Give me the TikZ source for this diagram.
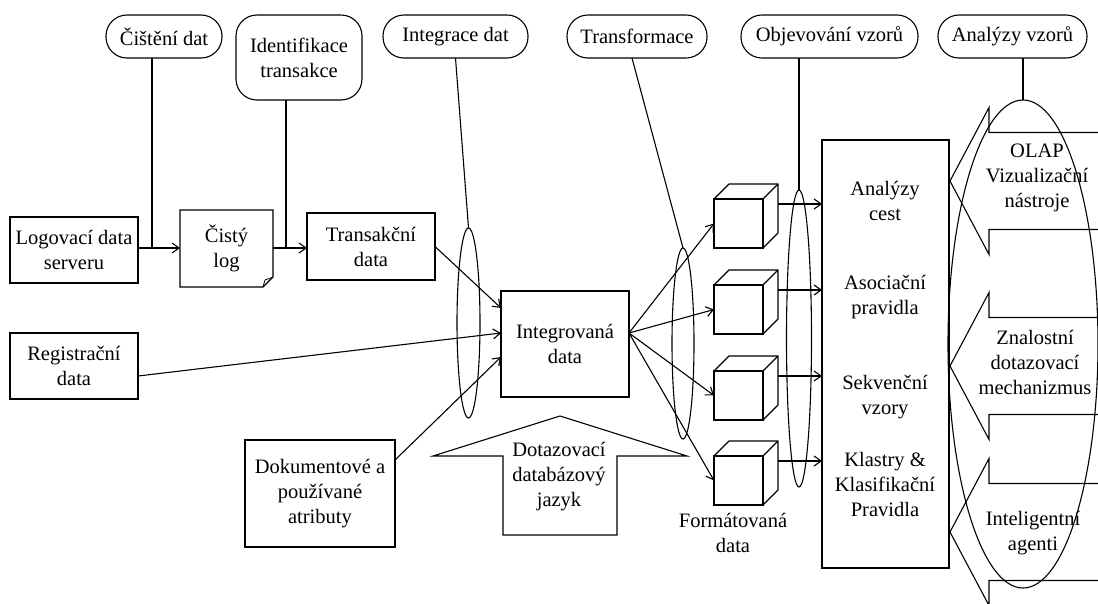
\documentclass[tikz,border=0pt]{standalone}
\usepackage{fontspec}
\setmainfont{Liberation Serif}
\usetikzlibrary{arrows.meta,shapes.geometric,calc}
\begin{document}
\begin{tikzpicture}[x=1pt,y=-1pt,
  every node/.style={font=\fontsize{20.5}{25}\selectfont, align=center, inner sep=0pt, outer sep=0pt},
  ln/.style={line width=1.1pt},
  box/.style={draw, line width=1.1pt, rectangle},
  pill/.style={draw, line width=1.1pt, rounded corners=21pt},
  arr/.style={line width=1.1pt, -{Straight Barb[length=7pt,width=10pt]}},
  ell/.style={draw, ellipse, line width=1.1pt},
  cubeface/.style={draw, line width=1.1pt, minimum width=49pt, minimum height=49pt}
]
\fill[white] (0,0) rectangle (1098,603);
\useasboundingbox (0,0) rectangle (1098,603);

% top pills
\node[pill, minimum width=116pt, minimum height=43pt] (cistp) at (164,36.5) {Čištění dat};
\node[pill, minimum width=126pt, minimum height=85pt] (identp) at (299,57.5) {Identifikace\\transakce};
\node[pill, minimum width=145pt, minimum height=43pt] (integp) at (455.5,36.5) {Integrace dat};
\node[pill, minimum width=140pt, minimum height=43pt] (transp) at (637,36.5) {Transformace};
\node[pill, minimum width=177pt, minimum height=43pt] (objp) at (829.5,36.5) {Objevování vzorů};
\node[pill, minimum width=149pt, minimum height=43pt] (anp) at (1012.5,36.5) {Analýzy vzorů};

% boxes
\node[box, minimum width=128pt, minimum height=66pt] (logov) at (74,250) {Logovací data\\serveru};
\node[minimum width=93pt, minimum height=77pt] (cisty) at (226.5,248.5) {Čistý\\log};
\draw[ln] (cisty.north west) -- (cisty.north east) -- ($(cisty.south east)+(0,-10)$)
  -- ($(cisty.south east)+(-10,0)$) -- (cisty.south west) -- cycle;
\draw[line width=0.8pt] ($(cisty.south east)+(-10,0)$) -- ($(cisty.south east)+(-8,-7)$) -- ($(cisty.south east)+(0,-10)$);
\node[box, minimum width=128pt, minimum height=67pt] (trans) at (371,246.5) {Transakční\\data};
\node[box, minimum width=128pt, minimum height=66pt] (regis) at (74,366) {Registrační\\data};
\node[box, minimum width=150pt, minimum height=107pt] (dokum) at (320,493.5) {Dokumentové a\\používané\\atributy};
\node[box, minimum width=128pt, minimum height=106pt] (integr) at (565,344) {Integrovaná\\data};
\node[box, minimum width=127pt, minimum height=428pt] (rb) at (885.5,354) {};

\node (t1) at (885,201) {Analýzy\\cest};
\node (t2) at (885,297) {Asociační\\pravidla};
\node (t3) at (885,397) {Sekvenční\\vzory};
\node (t4) at (885,484) {Klastry \&\\Klasifikační\\Pravidla};

% junctions
\coordinate (j1) at (152,248);
\coordinate (j2) at (286,248);
\draw[ln] (j1 |- cistp.south) -- (j1);
\draw[ln] (j2 |- identp.south) -- (j2);
\draw[arr] (logov.east |- j1) -- (cisty.west |- j1);
\draw[arr] (cisty.east |- j2) -- (trans.west |- j2);

% arrows into integrated data
\draw[arr] (trans.east) -- ($(integr.north west)+(0,17)$);
\draw[arr] ($(regis.east)+(0,10)$) -- ($(integr.west)+(0,-11)$);
\draw[arr] ($(dokum.north east)+(0,20)$) -- ($(integr.west)+(0,13)$);

% ellipses
\node[ell, minimum width=23pt, minimum height=190pt] (e1) at (468.5,323) {};
\node[ell, minimum width=22pt, minimum height=191pt] (e2) at (683,343.5) {};
\node[ell, minimum width=25pt, minimum height=297pt] (e3) at (799,338.5) {};
\node[ell, minimum width=150pt, minimum height=488pt] (e4) at (1023,344) {};
\draw[ln] (integp.south) -- (e1.north);
\draw[ln] ($(transp.south)+(-5,0)$) -- (e2.north);
\draw[ln] (e3.north |- objp.south) -- (e3.north);
\draw[ln] (e4.north |- anp.south) -- (e4.north);

% query language arrow
\draw[ln] (503,535) -- (503,456) -- (433,456) -- (560,416) -- (687,456) -- (617,456) -- (617,535) -- cycle;
\node (dot) at (559,477) {Dotazovací\\databázový\\jazyk};

% cubes
\foreach \i/\yt in {1/199,2/285,3/371,4/456}{
  \node[cubeface] (c\i) at (738.5,\yt+24.5) {};
  \draw[ln, line join=round] (c\i.north west) -- ++(15,-15) -- ++(49,0) -- ++(0,49) -- (c\i.south east);
  \draw[ln] (c\i.north east) -- ++(15,-15);
  \coordinate (s\i) at ($(c\i.north east)+(15,5)$);
  \draw[arr] (s\i) -- (s\i -| rb.west);
  \draw[arr] ($(integr.east)+(0,-11)$) -- (c\i.west);
}
\node (fd) at (733,533) {Formátovaná\\data};

% right block arrows
\foreach \yc in {181,366,532}{
  \draw[ln] (1099,{\yc-48.5}) -- (989,{\yc-48.5}) -- (989,{\yc-73.5}) -- (950,\yc)
    -- (989,{\yc+73.5}) -- (989,{\yc+48.5}) -- (1099,{\yc+48.5});
}
\node (olap) at (1037,178) {OLAP\\Vizualizační\\nástroje};
\node (znal) at (1035,362) {Znalostní\\dotazovací\\mechanizmus};
\node (intel) at (1033,533) {Inteligentní\\agenti};
\end{tikzpicture}
\end{document}
